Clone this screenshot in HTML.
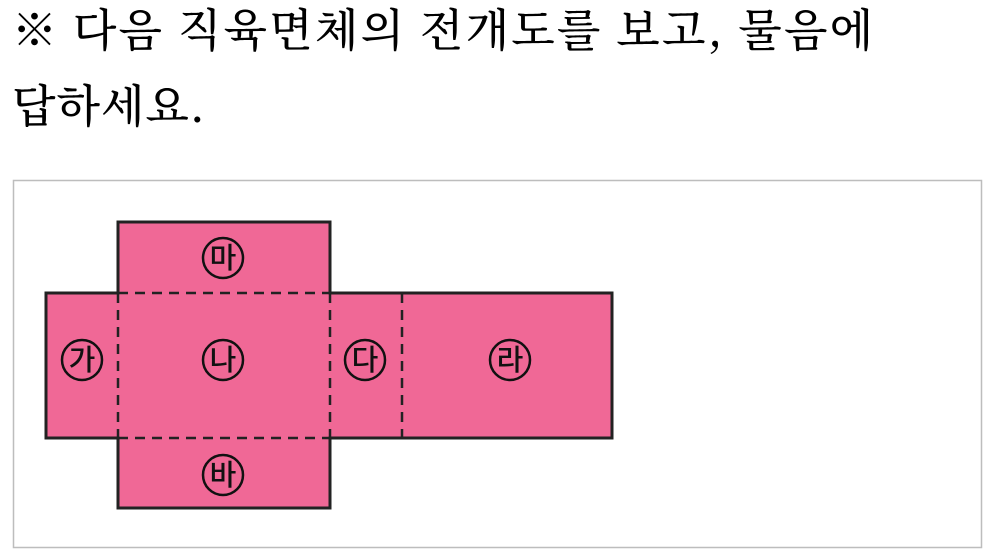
<!DOCTYPE html>
<html><head><meta charset="utf-8"><style>
body{margin:0;background:#fff;width:993px;height:553px;overflow:hidden;position:relative}
.t{position:absolute;left:12px;font-family:"Noto Serif CJK KR","Noto Serif CJK SC","Liberation Serif",serif;font-size:45px;font-weight:500;color:#000;white-space:nowrap;line-height:1;letter-spacing:2.2px}
</style></head><body>
<div class="t" style="top:4px">※ 다음 직육면체의 전개도를 보고, 물음에</div>
<div class="t" style="top:80px;letter-spacing:1px">답하세요.</div>
<svg width="993" height="553" style="position:absolute;left:0;top:0" xmlns="http://www.w3.org/2000/svg">
<rect x="13.5" y="180.5" width="968" height="367" fill="none" stroke="#bdbdbd" stroke-width="1.5"/>
<g fill="#f06896" stroke="#222" stroke-width="3">
<path d="M118 222H330V293H612V438H330V508H118V438H46V293H118Z"/>
</g>
<g stroke="#222" stroke-width="2.5" stroke-dasharray="10,7" fill="none">
<line x1="118" y1="293" x2="330" y2="293"/>
<line x1="118" y1="438" x2="330" y2="438"/>
<line x1="118" y1="293" x2="118" y2="438"/>
<line x1="330" y1="293" x2="330" y2="438"/>
<line x1="402" y1="293" x2="402" y2="438"/>
</g>
<g fill="none" stroke="#111" stroke-width="2.5">
<circle cx="82" cy="360" r="20"/><circle cx="223" cy="360" r="20"/><circle cx="365" cy="360" r="20"/><circle cx="510" cy="360" r="20"/><circle cx="223" cy="258" r="20"/><circle cx="223" cy="475" r="20"/>
</g>
<g font-family="'Noto Sans CJK KR',sans-serif" font-size="29" font-weight="500" text-anchor="middle" fill="#111">
<text x="82" y="370">가</text><text x="223" y="370">나</text><text x="365" y="370">다</text><text x="510" y="370">라</text><text x="223" y="268">마</text><text x="223" y="485">바</text>
</g>
</svg>
</body></html>
